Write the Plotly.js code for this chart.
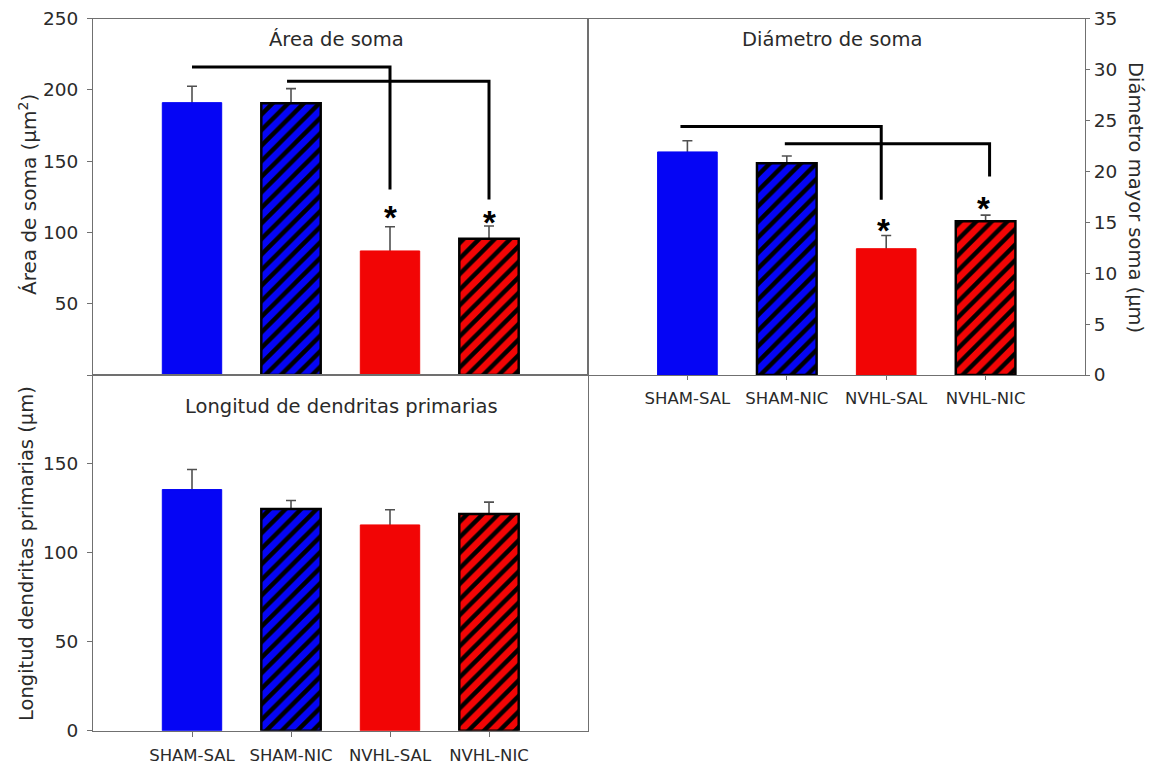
<!DOCTYPE html>
<html>
<head>
<meta charset="utf-8">
<script src="https://cdn.plot.ly/plotly-3.0.1.min.js"></script>
<style>
  html, body { margin: 0; padding: 0; background: #ffffff; }
  #chart { width: 1152px; height: 763px; }
</style>
</head>
<body>
<div id="chart"></div>
<script>
// Groups and measurements (mean and SEM)
const groups = ['SHAM-SAL', 'SHAM-NIC', 'NVHL-SAL', 'NVHL-NIC'];

const areaMean = [191, 190.5, 87, 95.5];
const areaSem = [11.5, 10.3, 17, 9];

const diamMean = [21.9, 20.8, 12.4, 15.1];
const diamSem = [1.1, 0.7, 1.3, 0.6];

const dendMean = [135.6, 124.7, 115.7, 121.9];
const dendSem = [11.3, 4.7, 8.5, 6.6];

// Significance brackets: start group, end group, bar height, drop end
const areaBracketFrom = [0, 0.96];
const areaBracketTo = [2, 3];
const areaBracketY = [216, 206];
const areaBracketEnd = [130, 123];
const areaStarX = [2, 3];
const areaStarY = [115.5, 112];

const diamBracketFrom = [-0.07, 0.98];
const diamBracketTo = [1.95, 3.04];
const diamBracketY = [24.4, 22.7];
const diamBracketEnd = [17.2, 19.5];
const diamStarX = [1.97, 2.98];
const diamStarY = [14.9, 17.0];

// Tick values
const areaTicks = [50, 100, 150, 200, 250];
const diamTicks = [0, 5, 10, 15, 20, 25, 30, 35];
const dendTicks = [0, 50, 100, 150];

// Styling per group
const BLUE = '#0505f5';
const RED = '#f20505';
const fillColors = [BLUE, BLUE, RED, RED];
const hatched = [false, true, false, true];
const FONT = 'DejaVu Sans, Arial, sans-serif';
const AXIS_GRAY = '#707070';
const TEXT = '#2a2a2a';

const xIdx = groups.map((g, i) => i);

const errTraces = [];
const barTraces = [];
function panel(means, sems, xa, ya) {
  // Error bars go in an invisible trace drawn first, so bars cover the lower half
  errTraces.push({
    type: 'bar', x: xIdx, y: means, xaxis: xa, yaxis: ya, width: 0.6,
    marker: { color: 'rgba(0,0,0,0)', line: { width: 0 } },
    error_y: { type: 'data', array: sems, visible: true, color: '#505050', thickness: 1.6, width: 5 },
    hoverinfo: 'skip', showlegend: false
  });
  groups.forEach((g, i) => {
    const marker = hatched[i]
      ? {
          color: fillColors[i],
          line: { color: '#000000', width: 2.5 },
          pattern: { shape: '/', fillmode: 'replace', bgcolor: fillColors[i], fgcolor: '#000000', size: 11, solidity: 0.4 }
        }
      : { color: fillColors[i], line: { color: fillColors[i], width: 1 } };
    barTraces.push({
      type: 'bar', name: g, x: [xIdx[i]], y: [means[i]], xaxis: xa, yaxis: ya,
      width: 0.6, marker: marker, textposition: 'none', showlegend: false
    });
  });
}
panel(areaMean, areaSem, 'x', 'y');
panel(diamMean, diamSem, 'x2', 'y2');
panel(dendMean, dendSem, 'x3', 'y3');
const data = errTraces.concat(barTraces);

// Brackets
const shapes = [];
function addBrackets(from, to, yy, yEnd, xr, yr) {
  for (let i = 0; i < from.length; i++) {
    shapes.push({
      type: 'path', xref: xr, yref: yr,
      path: 'M' + from[i] + ',' + yy[i] + ' L' + to[i] + ',' + yy[i] + ' L' + to[i] + ',' + yEnd[i],
      line: { color: '#000000', width: 3 }
    });
  }
}
addBrackets(areaBracketFrom, areaBracketTo, areaBracketY, areaBracketEnd, 'x', 'y');
addBrackets(diamBracketFrom, diamBracketTo, diamBracketY, diamBracketEnd, 'x2', 'y2');

const annotations = [];
function addStars(xs, ys, xr, yr) {
  for (let i = 0; i < xs.length; i++) {
    annotations.push({
      x: xs[i], y: ys[i], xref: xr, yref: yr, text: '<b>*</b>', showarrow: false,
      font: { family: 'Liberation Sans, Arial, sans-serif', size: 33, color: '#000000' },
      xanchor: 'center', yanchor: 'middle', yshift: -7
    });
  }
}
addStars(areaStarX, areaStarY, 'x', 'y');
addStars(diamStarX, diamStarY, 'x2', 'y2');

function note(text, x, y, size, angle) {
  annotations.push({
    text: text, x: x, y: y, xref: 'paper', yref: 'paper', showarrow: false,
    xanchor: 'center', yanchor: 'middle', textangle: angle || 0,
    font: { family: FONT, size: size, color: TEXT }
  });
}
// Panel titles
note('Área de soma', 336 / 1152, 1 - 40 / 763, 19.5);
note('Diámetro de soma', 832 / 1152, 1 - 40 / 763, 19.5);
note('Longitud de dendritas primarias', 341 / 1152, 1 - 406 / 763, 19.5);
// Axis titles
note('Área de soma (μm<sup>2</sup>)', 28 / 1152, 1 - 195 / 763, 20, -90);
note('Diámetro mayor soma (μm)', 1136 / 1152, 1 - 197 / 763, 19.5, 90);
note('Longitud dendritas primarias (μm)', 26 / 1152, 1 - 554 / 763, 19.5, -90);

const colL = [93 / 1152, 588 / 1152];
const colR = [588 / 1152, 1085 / 1152];
const rowT = [1 - 375 / 763, 1 - 18.5 / 763];
const rowB = [1 - 730.7 / 763, 1 - 375 / 763];

const tickFont = { family: FONT, size: 18.5, color: TEXT };
const catFont = { family: FONT, size: 16.5, color: TEXT };
const baseX = {
  range: [-1, 4], showgrid: false, zeroline: false,
  showline: true, linecolor: AXIS_GRAY, linewidth: 1, mirror: true,
  fixedrange: true
};
const baseY = {
  showgrid: false, zeroline: false, showline: true, linecolor: AXIS_GRAY,
  linewidth: 1, mirror: true, ticks: 'outside', ticklen: 5, tickcolor: AXIS_GRAY,
  tickfont: tickFont, fixedrange: true
};

const layout = {
  width: 1152, height: 763,
  margin: { l: 0, r: 0, t: 0, b: 0 },
  paper_bgcolor: '#ffffff', plot_bgcolor: '#ffffff',
  barmode: 'overlay', showlegend: false,
  xaxis: Object.assign({}, baseX, { domain: colL, anchor: 'y', showticklabels: false, ticks: '' }),
  yaxis: Object.assign({}, baseY, {
    domain: rowT, anchor: 'x', range: [0, 250],
    tickmode: 'array', tickvals: areaTicks, ticklabelstandoff: 5,
    // unlabelled tick at the baseline
    minor: { tickmode: 'array', tickvals: [0], ticks: 'outside', ticklen: 5, tickcolor: AXIS_GRAY, showgrid: false }
  }),
  xaxis2: Object.assign({}, baseX, {
    domain: colR, anchor: 'y2', tickmode: 'array', tickvals: xIdx, ticktext: groups,
    ticks: 'outside', ticklen: 4, tickcolor: AXIS_GRAY, tickfont: catFont,
    ticklabelstandoff: 4
  }),
  yaxis2: Object.assign({}, baseY, {
    domain: rowT, anchor: 'x2', side: 'right', range: [0, 35],
    tickmode: 'array', tickvals: diamTicks, ticklen: 4, ticklabelstandoff: 0
  }),
  xaxis3: Object.assign({}, baseX, {
    domain: colL, anchor: 'y3', tickmode: 'array', tickvals: xIdx, ticktext: groups,
    ticks: 'outside', ticklen: 5, tickcolor: AXIS_GRAY, tickfont: catFont,
    ticklabelstandoff: 4
  }),
  yaxis3: Object.assign({}, baseY, {
    domain: rowB, anchor: 'x3', range: [0, 200],
    tickmode: 'array', tickvals: dendTicks, ticklabelstandoff: 5
  }),
  shapes: shapes,
  annotations: annotations
};

Plotly.newPlot('chart', data, layout, { displayModeBar: false, staticPlot: true });
</script>
</body>
</html>
